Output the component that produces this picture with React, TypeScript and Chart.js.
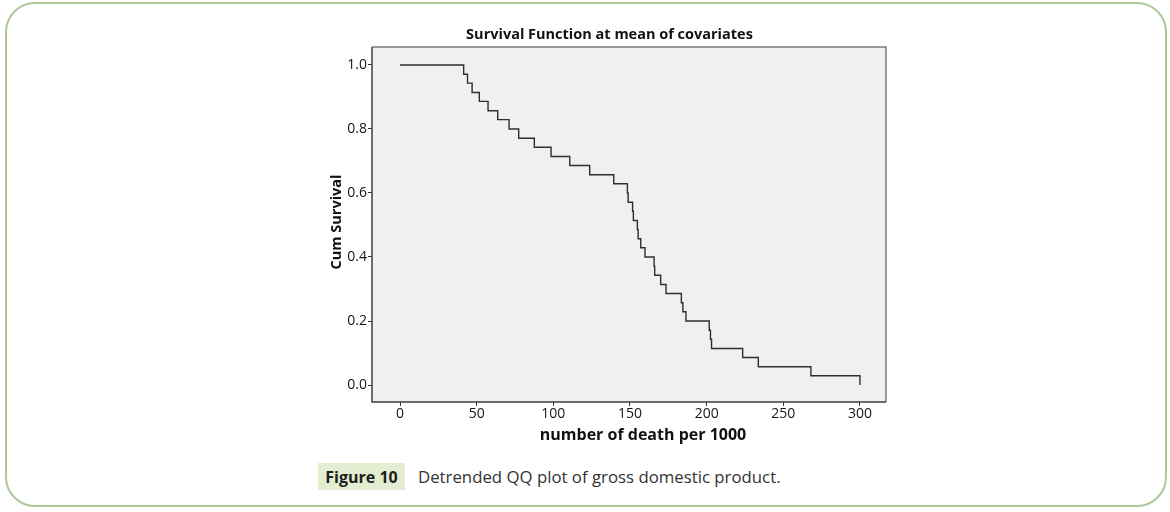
import React, { useEffect, useRef } from 'react';
import { Chart, registerables } from 'chart.js';

Chart.register(...registerables);

const chartTitle = 'Survival Function at mean of covariates';
const xAxisTitle = 'number of death per 1000';
const yAxisTitle = 'Cum Survival';
const captionLabel = 'Figure 10';
const captionText = 'Detrended QQ plot of gross domestic product.';

const eventTimes = [
  0, 41.5, 44, 47, 51.7, 57.4, 63.7, 71.1, 77.4, 87.6, 98.5, 110.7, 123.7, 139.4,
  148.3, 148.8, 151.7, 152.2, 154.8, 155.3, 157, 159.8, 165.7, 166.1, 170, 173.5,
  183.5, 184.5, 186.5, 201.7, 202.5, 203.2, 223.5, 233.7, 268, 300,
];
const cumSurvival = [
  1.0, 0.971, 0.943, 0.914, 0.886, 0.857, 0.829, 0.8, 0.771, 0.743, 0.714, 0.686, 0.657, 0.629,
  0.6, 0.571, 0.543, 0.514, 0.486, 0.457, 0.429, 0.4, 0.371, 0.343, 0.314, 0.286,
  0.257, 0.229, 0.2, 0.171, 0.143, 0.114, 0.086, 0.057, 0.029, 0.0,
];
const xTicks = [0, 50, 100, 150, 200, 250, 300];
const yTicks = [0, 0.2, 0.4, 0.6, 0.8, 1.0];

const plotFrame = {
  id: 'plotFrame',
  beforeDraw(chart: any) {
    const { ctx, chartArea } = chart;
    const { left, top, right, bottom } = chartArea;
    ctx.save();
    ctx.fillStyle = '#f0f0f0';
    ctx.fillRect(left, top, right - left, bottom - top);
    ctx.restore();
  },
  afterDraw(chart: any) {
    const { ctx, chartArea } = chart;
    const { left, top, right, bottom } = chartArea;
    ctx.save();
    ctx.lineWidth = 1.5;
    ctx.strokeStyle = '#7a7a7a';
    ctx.beginPath();
    ctx.moveTo(left, top);
    ctx.lineTo(right, top);
    ctx.lineTo(right, bottom);
    ctx.stroke();
    ctx.strokeStyle = '#3c3c3c';
    ctx.beginPath();
    ctx.moveTo(left, top);
    ctx.lineTo(left, bottom);
    ctx.lineTo(right, bottom);
    ctx.stroke();
    // axis titles (SPSS-style placement)
    ctx.fillStyle = '#111111';
    ctx.textAlign = 'center';
    ctx.textBaseline = 'middle';
    ctx.font = 'bold 16px "Open Sans"';
    ctx.fillText(xAxisTitle, (left + right) / 2 + 14, bottom + 33);
    ctx.font = 'bold 14.5px "Open Sans"';
    ctx.translate(left - 35, (top + bottom) / 2 - 2.5);
    ctx.rotate(-Math.PI / 2);
    ctx.fillText(yAxisTitle, 0, 0);
    ctx.restore();
  },
};

function SurvivalChart() {
  const canvasRef = useRef<HTMLCanvasElement | null>(null);

  useEffect(() => {
    if (!canvasRef.current) return;
    const points = eventTimes.map((t, i) => ({ x: t, y: cumSurvival[i] }));
    const chart = new Chart(canvasRef.current, {
      type: 'scatter',
      data: {
        datasets: [
          {
            data: points,
            showLine: true,
            stepped: 'before',
            borderColor: '#2e2e2e',
            borderWidth: 1.4,
            pointRadius: 0,
            fill: false,
          } as any,
        ],
      },
      options: {
        animation: false,
        responsive: false,
        layout: { padding: { left: 12, right: 10, top: 0, bottom: 0 } },
        plugins: {
          legend: { display: false },
          tooltip: { enabled: false },
          title: {
            display: true,
            text: chartTitle,
            color: '#111111',
            font: { family: 'Open Sans', size: 14.5, weight: 'bold' },
            padding: { top: 6.5, bottom: 3.1 },
          },
        },
        scales: {
          x: {
            type: 'linear',
            min: -18.3,
            max: 317,
            afterBuildTicks: (s: any) => {
              s.ticks = xTicks.map((v) => ({ value: v }));
            },
            afterFit: (s: any) => {
              s.height = 43;
            },
            grid: { drawOnChartArea: false, drawTicks: true, tickLength: 4, color: '#333333' },
            border: { display: false },
            ticks: {
              color: '#161616',
              font: { family: 'Open Sans', size: 14 },
              padding: 0,
              maxRotation: 0,
              callback: (v: any) => String(v),
            },
            title: { display: false },
          },
          y: {
            type: 'linear',
            min: -0.053,
            max: 1.056,
            afterBuildTicks: (s: any) => {
              s.ticks = yTicks.map((v) => ({ value: v }));
            },
            afterFit: (s: any) => {
              s.width = 39;
            },
            grid: { drawOnChartArea: false, drawTicks: true, tickLength: 4, color: '#333333' },
            border: { display: false },
            ticks: {
              color: '#161616',
              font: { family: 'Open Sans', size: 14 },
              padding: 1,
              callback: (v: any) => Number(v).toFixed(1),
            },
            title: { display: false },
          },
        },
      },
      plugins: [plotFrame],
    });
    return () => chart.destroy();
  }, []);

  return (
    <canvas
      ref={canvasRef}
      width={575}
      height={425}
      style={{ position: 'absolute', left: 321, top: 20, width: 575, height: 425 }}
    />
  );
}

export default function App() {
  return (
    <div
      style={{
        position: 'fixed',
        left: 0,
        top: 0,
        width: 1170,
        height: 512,
        background: '#ffffff',
        overflow: 'hidden',
      }}
    >
      <div
        style={{
          position: 'absolute',
          left: 5,
          top: 2,
          width: 1158,
          height: 501,
          border: '2px solid #acc79a',
          borderRadius: 30,
        }}
      />
      <SurvivalChart />
      <div
        style={{
          position: 'absolute',
          left: 318,
          top: 463,
          width: 87,
          height: 27,
          background: '#e2edd2',
          display: 'flex',
          alignItems: 'center',
          justifyContent: 'center',
          fontFamily: 'Open Sans',
          fontWeight: 'bold',
          fontSize: 16,
          color: '#1e1e1e',
        }}
      >
        {captionLabel}
      </div>
      <div
        style={{
          position: 'absolute',
          left: 418,
          top: 463,
          height: 27,
          display: 'flex',
          alignItems: 'center',
          fontFamily: 'Open Sans',
          fontSize: 16.8,
          color: '#333333',
          whiteSpace: 'nowrap',
        }}
      >
        {captionText}
      </div>
    </div>
  );
}
